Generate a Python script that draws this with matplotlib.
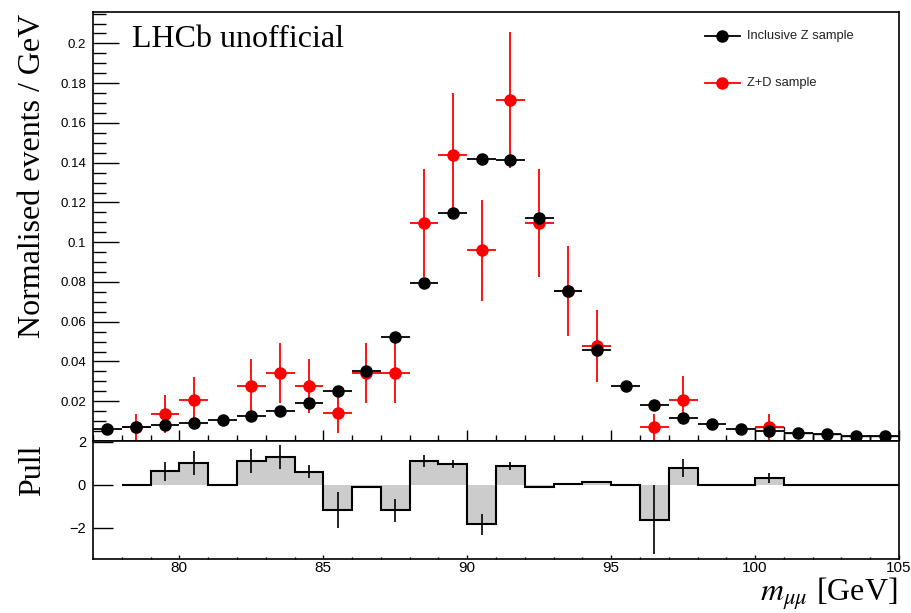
import numpy as np
import matplotlib

matplotlib.use("Agg")
import matplotlib.pyplot as plt
from matplotlib.ticker import MultipleLocator

plt.rcParams["mathtext.fontset"] = "stix"
plt.rcParams["font.family"] = ["Liberation Sans", "DejaVu Sans"]

# ── data ──────────────────────────────────────────────────────────
bin_centres = [77.5, 78.5, 79.5, 80.5, 81.5, 82.5, 83.5, 84.5, 85.5, 86.5,
               87.5, 88.5, 89.5, 90.5, 91.5, 92.5, 93.5, 94.5, 95.5, 96.5,
               97.5, 98.5, 99.5, 100.5, 101.5, 102.5, 103.5, 104.5]
incl_z = [0.0061, 0.0069, 0.0078, 0.0091, 0.0104, 0.0126, 0.0151, 0.0192,
          0.0250, 0.0353, 0.0523, 0.0795, 0.1147, 0.1421, 0.1416, 0.1124,
          0.0754, 0.0459, 0.0278, 0.0180, 0.0118, 0.0087, 0.0062, 0.0050,
          0.0040, 0.0033, 0.0027, 0.0024]

zd_x = [78.5, 79.5, 80.5, 82.5, 83.5, 84.5, 85.5, 86.5, 87.5, 88.5,
        89.5, 90.5, 91.5, 92.5, 93.5, 94.5, 96.5, 97.5, 100.5]
zd_y = [0.0069, 0.0136, 0.0205, 0.0276, 0.0343, 0.0276, 0.0140, 0.0343,
        0.0343, 0.1097, 0.1438, 0.0959, 0.1715, 0.1095, 0.0754, 0.0477,
        0.0069, 0.0207, 0.0069]
zd_err = [0.0066, 0.0097, 0.0119, 0.0134, 0.0151, 0.0134, 0.0101, 0.0151,
          0.0151, 0.0271, 0.0314, 0.0254, 0.0342, 0.0272, 0.0226, 0.0181,
          0.0067, 0.0118, 0.0067]

# outline boxes visible at the high-mass end
box_lo = [100, 101, 102, 103, 104]
box_h = [0.0069, 0.0040, 0.0033, 0.0027, 0.0024]

# pull, bins 78..105
pull_edges = [78, 79, 80, 81, 82, 83, 84, 85, 86, 87, 88, 89, 90, 91, 92,
              93, 94, 95, 96, 97, 98, 99, 100, 101, 102, 103, 104, 105]
pull = [-0.03, 0.625, 1.0, 0.0, 1.09, 1.27, 0.61, -1.19, -0.09, -1.19,
        1.11, 0.97, -1.83, 0.86, -0.09, 0.05, 0.125, -0.02, -1.63, 0.77,
        0.0, 0.0, 0.30, 0.0, 0.0, 0.0, 0.0]
pull_err = [0.0, 0.43, 0.56, 0.0, 0.55, 0.56, 0.31, 0.84, 0.0, 0.52,
            0.28, 0.2, 0.49, 0.19, 0.0, 0.0, 0.0, 0.0, 1.6, 0.43,
            0.0, 0.0, 0.24, 0.0, 0.0, 0.0, 0.0]

SERIF = ["Liberation Serif", "DejaVu Serif"]
W, H = 912, 613

fig = plt.figure(figsize=(W / 100, H / 100), dpi=100, facecolor="white")
ax = fig.add_axes([93 / W, 1 - 441 / H, 806 / W, 429 / H])
axp = fig.add_axes([93 / W, 1 - 559 / H, 806 / W, 118 / H], sharex=ax)

# ── main panel ────────────────────────────────────────────────────
ax.bar(box_lo, box_h, width=1.0, align="edge", fill=False,
       edgecolor="#222222", linewidth=1.0, zorder=1)
ax.errorbar(zd_x, zd_y, xerr=0.5, yerr=zd_err, fmt="o", color="red",
            ecolor="red", markersize=8, elinewidth=1.3, capsize=0, zorder=2)
ax.errorbar(bin_centres, incl_z, xerr=0.5, fmt="o", color="black",
            markersize=8, elinewidth=1.3, capsize=0, zorder=3)

ax.set_xlim(77, 105)
ax.set_ylim(0, 0.2158)
ax.yaxis.set_minor_locator(MultipleLocator(0.005))
ax.xaxis.set_major_locator(MultipleLocator(5))
ax.xaxis.set_minor_locator(MultipleLocator(1))
ax.set_yticks([0.02, 0.04, 0.06, 0.08, 0.1, 0.12, 0.14, 0.16, 0.18, 0.2])
ax.set_yticklabels(["0.02", "0.04", "0.06", "0.08", "0.1", "0.12", "0.14",
                    "0.16", "0.18", "0.2"])
ax.tick_params(axis="y", which="major", direction="in", length=19, width=1,
               labelsize=9.5, pad=5)
ax.tick_params(axis="y", which="minor", direction="in", length=9.5, width=1)
ax.tick_params(axis="x", which="major", direction="in", length=8, width=1,
               labelbottom=False)
ax.tick_params(axis="x", which="minor", direction="in", length=4, width=1)
for s in ax.spines.values():
    s.set_linewidth(1.2)

ax.text(0.048, 0.918, "LHCb unofficial", transform=ax.transAxes,
        fontsize=23, family=SERIF, va="baseline")

# legend drawn by hand
for yl, col, lab in [(0.944, "black", "Inclusive Z sample"),
                     (0.834, "red", "Z+D sample")]:
    ax.plot([0.759, 0.803], [yl, yl], color=col, lw=1.3,
            transform=ax.transAxes, clip_on=False)
    ax.plot([0.781], [yl], "o", color=col, markersize=8,
            transform=ax.transAxes, clip_on=False)
    ax.text(0.811, yl, lab, transform=ax.transAxes, fontsize=9.3,
            va="center", color="#222222")

# ── pull panel ────────────────────────────────────────────────────
axp.stairs(pull, pull_edges, baseline=0, fill=True, color="#cccccc",
           zorder=1)
axp.stairs(pull, pull_edges, baseline=None, color="black", lw=1.5, zorder=2)
pc = [e + 0.5 for e in pull_edges[:-1]]
axp.errorbar(pc, pull, yerr=pull_err, fmt="none", ecolor="black",
             elinewidth=1.2, capsize=0, zorder=3)

axp.set_ylim(-3.45, 2.03)
axp.set_yticks([-2, 0, 2])
axp.set_yticklabels(["\u22122", "0", "2"])
axp.tick_params(axis="y", which="major", direction="in", length=14.5,
                width=1, labelsize=10.5, pad=5)
axp.tick_params(axis="y", which="minor", left=False)
axp.tick_params(axis="x", which="major", direction="in", length=3, width=1,
                labelsize=11, pad=1.5)
axp.tick_params(axis="x", which="minor", direction="in", length=1.8, width=1)
axp.set_xticks([80, 85, 90, 95, 100, 105])
for s in axp.spines.values():
    s.set_linewidth(1.2)

# ── axis titles ───────────────────────────────────────────────────
fig.text(33 / W, 1 - 14 / H, "Normalised events / GeV", rotation=90,
         ha="center", va="top", fontsize=23, family=SERIF)
fig.text(33 / W, 1 - 445 / H, "Pull", rotation=90, ha="center", va="top",
         fontsize=23, family=SERIF)
fig.text(897 / W, 1 - 594 / H, r"$m_{\mu\mu}$ [GeV]", ha="right",
         va="center", fontsize=23, family=SERIF)

fig.savefig("out.png", dpi=100, facecolor="white")
